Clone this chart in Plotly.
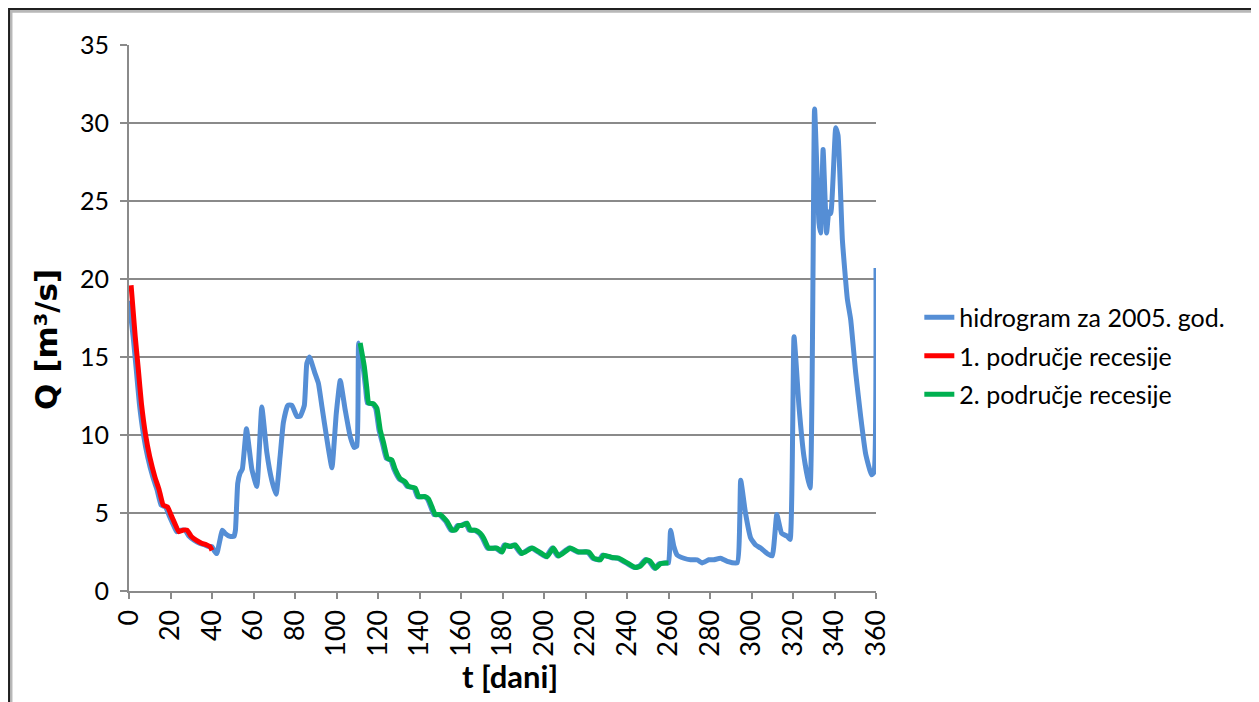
import plotly.graph_objects as go

# Hydrograph 2005 (t in days, Q in m3/s)
hydro_t = [0, 2, 3.5, 5, 7, 9, 11.5, 13.5, 15.5, 17.5, 19.5, 21, 23, 25, 27, 29, 31.5, 34, 36.5, 38.5,
           40, 41, 42.3, 45, 46.3, 48.7, 50.6, 51.3, 52.4, 53.5, 54.6, 56.6, 59.2, 61.6, 64, 66.4, 68.8,
           70.9, 72.8, 74.4, 76.5, 78.5, 80.9, 82.5, 84.5, 85.7, 87, 89.5, 91.3, 93, 95.4, 97.8, 99.9,
           101.8, 104.2, 106.6, 108.5, 109.8, 110.7,
           112.8, 114.1, 114.9, 117.3, 118.9, 120.5, 122.1, 124.0, 126.1, 127.7, 130.1, 132.5, 134.1,
           137.4, 139.0, 142.2, 143.8, 145.4, 147.0, 149.4, 152.7, 155.1, 156.7, 158.3, 159.9, 162.3,
           163.9, 166.3, 168.7, 170.3, 172.7, 176.8, 179.2, 180.8, 183.2, 185.6, 188.8, 193.7, 197.7,
           200.9, 203.9, 206.5, 212.1, 216.1, 221.0, 223.4, 226.6, 228.2, 232.2, 235.4, 239.5, 243.5,
           245.9, 248.8, 250.7, 253.1, 255.5, 258.0, 260,
           261, 262.6, 264.2, 267.4, 270.6, 273.8, 276.2, 279.4, 281.8, 285.1, 288.3, 293.1, 294.8,
           297.1, 299.6, 302, 304.4, 307.6, 310, 312.2, 314.5, 317.3, 318.6, 320.5, 322.9, 325.3,
           328.2, 330.4, 332.5, 333.3, 334.5, 336.2, 337.3, 338.2, 340.6, 341.7, 343.8, 346.2, 347.8,
           350.2, 352.6, 355, 357.8, 359, 360]
hydro_q = [18.6, 16.3, 14.2, 12.0, 10.0, 8.6, 7.3, 6.5, 5.5, 5.4, 4.8, 4.35, 3.8, 3.9, 3.9, 3.5, 3.25, 3.06, 2.95, 2.85,
           2.85, 2.6, 2.4, 3.9, 3.7, 3.5, 3.5, 3.9, 6.9, 7.55, 7.8, 10.4, 7.8, 6.7, 11.8, 8.9, 7.1,
           6.2, 8.6, 10.8, 11.9, 11.9, 11.2, 11.2, 11.9, 14.6, 15.0, 14.0, 13.3, 11.8, 9.7, 7.9, 11.4,
           13.5, 11.6, 9.9, 9.2, 9.3, 15.9,
           14.4, 12.9, 12.05, 12.0, 11.7, 10.3, 9.5, 8.5, 8.4, 7.8, 7.2, 7.0, 6.7,
           6.6, 6.05, 6.05, 5.9, 5.4, 4.9, 4.9, 4.45, 3.9, 3.9, 4.2, 4.2, 4.35,
           3.9, 3.9, 3.7, 3.4, 2.75, 2.75, 2.5, 2.95, 2.85, 2.95, 2.4, 2.75, 2.45,
           2.2, 2.75, 2.25, 2.75, 2.5, 2.5, 2.1, 2.0, 2.3, 2.15, 2.1, 1.8, 1.5,
           1.6, 2.0, 1.9, 1.45, 1.75, 1.8, 1.8,
           3.9, 2.85, 2.3, 2.1, 2.0, 2.0, 1.8, 2.0, 2.0, 2.1, 1.9, 1.8, 7.1,
           5.0, 3.4, 2.95, 2.75, 2.4, 2.25, 4.9, 3.7, 3.5, 3.3, 16.3, 11.8, 8.6,
           6.6, 30.9, 23.6, 22.95, 28.3, 22.95, 24.3, 24.2, 29.7, 29.2, 22.5, 18.7, 17.4,
           14.0, 11.2, 8.8, 7.45, 7.6, 20.7]

# 1st recession period
rec1_t = [1, 3, 4.5, 6, 8, 10, 12.5, 14.5, 16.5, 18.5, 20.5, 22, 24, 26, 28, 30, 32.5, 35, 37.5, 39, 40]
rec1_q = [19.6, 16.3, 14.2, 12.0, 10.0, 8.6, 7.3, 6.5, 5.5, 5.4, 4.8, 4.35, 3.8, 3.9, 3.9, 3.5, 3.25, 3.06, 2.95, 2.85, 2.6]

# 2nd recession period
rec2_t = [111.4, 113.4, 114.7, 115.5, 117.9, 119.5, 121.1, 122.7, 124.6, 126.7, 128.3, 130.7, 133.1, 134.7,
          138.0, 139.6, 142.8, 144.4, 146.0, 147.6, 150.0, 153.3, 155.7, 157.3, 158.9, 160.5, 162.9,
          164.5, 166.9, 169.3, 170.9, 173.3, 177.4, 179.8, 181.4, 183.8, 186.2, 189.4, 194.3, 198.3,
          201.5, 204.5, 207.1, 212.7, 216.7, 221.6, 224.0, 227.2, 228.8, 232.8, 236.0, 240.1, 244.1,
          246.5, 249.4, 251.3, 253.7, 256.1, 258.6, 260.0]
rec2_q = [15.9, 14.4, 12.9, 12.05, 12.0, 11.7, 10.3, 9.5, 8.5, 8.4, 7.8, 7.2, 7.0, 6.7,
          6.6, 6.05, 6.05, 5.9, 5.4, 4.9, 4.9, 4.45, 3.9, 3.9, 4.2, 4.2, 4.35,
          3.9, 3.9, 3.7, 3.4, 2.75, 2.75, 2.5, 2.95, 2.85, 2.95, 2.4, 2.75, 2.45,
          2.2, 2.75, 2.25, 2.75, 2.5, 2.5, 2.1, 2.0, 2.3, 2.15, 2.1, 1.8, 1.5,
          1.6, 2.0, 1.9, 1.45, 1.75, 1.8, 1.8]

names = ["hidrogram za 2005. god.", "1. područje recesije", "2. područje recesije"]
x_ticks = list(range(0, 361, 20))
y_ticks = list(range(0, 36, 5))
x_title = "t [dani]"
y_title = "Q [m³/s]"

FONT = "Lato"
GRID = "#8a8a8a"

fig = go.Figure()
fig.add_trace(go.Scatter(x=hydro_t, y=hydro_q, mode="lines", name=names[0], legendgroup="a",
                         line=dict(color="#558ed5", width=5, shape="spline", smoothing=0.4)))
fig.add_trace(go.Scatter(x=rec1_t, y=rec1_q, mode="lines", name=names[1], legendgroup="b",
                         line=dict(color="#ff0000", width=5, shape="spline", smoothing=0.4)))
fig.add_trace(go.Scatter(x=rec2_t, y=rec2_q, mode="lines", name=names[2], legendgroup="c",
                         line=dict(color="#00b050", width=5, shape="spline", smoothing=0.4)))

fig.update_layout(
    width=1251, height=694,
    margin=dict(l=121, r=383, t=37, b=111, autoexpand=False),
    paper_bgcolor="white", plot_bgcolor="white",
    font=dict(family=FONT, color="black"),
    showlegend=True,
    legend=dict(x=1.058, y=0.543, xanchor="left", yanchor="top",
                font=dict(family=FONT, size=25, color="black"),
                traceorder="grouped", tracegroupgap=3,
                bgcolor="rgba(0,0,0,0)"),
    xaxis=dict(range=[0, 360], tickvals=x_ticks, ticktext=[str(v) for v in x_ticks],
               tickangle=-90, tickfont=dict(family=FONT, size=27),
               showgrid=False, zeroline=False, showline=True, linecolor=GRID, linewidth=2,
               ticks="outside", ticklen=6, tickwidth=2, tickcolor=GRID),
    yaxis=dict(range=[0, 35], tickvals=y_ticks, tickfont=dict(family=FONT, size=25),
               showgrid=True, gridcolor=GRID, gridwidth=2, zeroline=False,
               showline=True, linecolor=GRID, linewidth=2,
               ticks="outside", ticklen=7, tickwidth=2, tickcolor=GRID,
               ticklabelstandoff=6),
)

# axis titles (placed as in the original)
fig.add_annotation(text="<b>" + x_title + "</b>", xref="paper", yref="paper",
                   x=0.51, y=-0.156, xanchor="center", yanchor="middle", showarrow=False,
                   font=dict(family=FONT, size=31, color="black"))
fig.add_annotation(text="<b>" + y_title + "</b>", xref="paper", yref="paper",
                   x=-0.111, y=0.46, xanchor="center", yanchor="middle", showarrow=False,
                   textangle=-90, font=dict(family="DejaVu Sans", size=31, color="black"))

# outer chart border with a soft shadow
fig.add_shape(type="rect", xref="paper", yref="paper",
              x0=-0.158, x1=1.509, y0=-0.25, y1=1.062,
              line=dict(color="#b8b8b8", width=3), layer="below")
fig.add_shape(type="rect", xref="paper", yref="paper",
              x0=-0.1606, x1=1.5047, y0=-0.25, y1=1.0659,
              line=dict(color="#202020", width=2), layer="below")

fig.write_html("out.html")
